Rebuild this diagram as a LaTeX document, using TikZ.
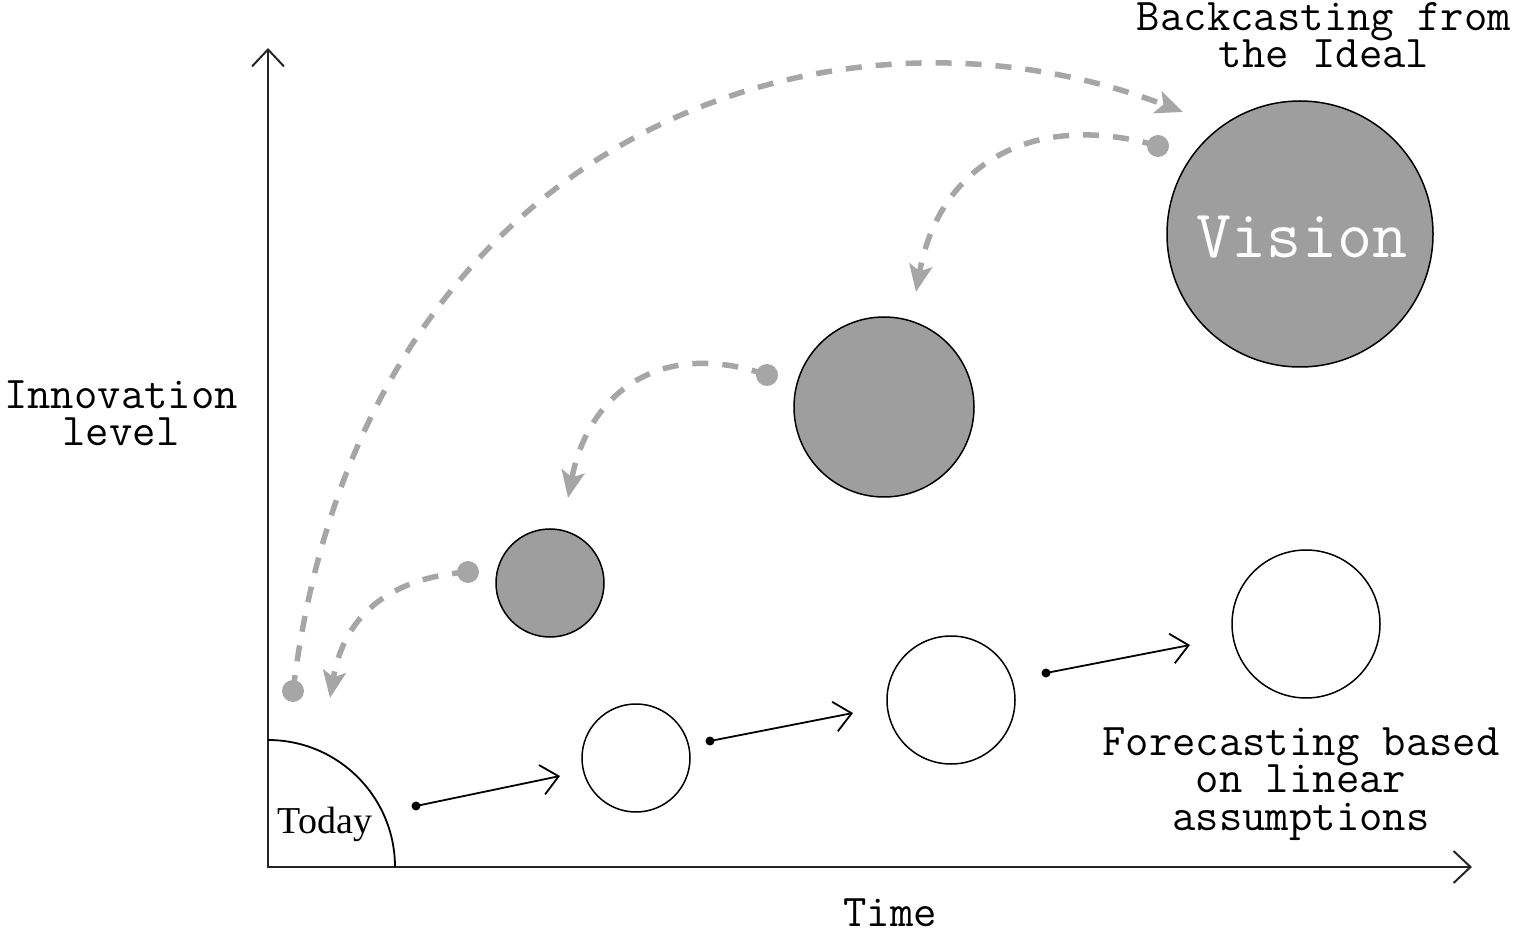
\documentclass[tikz,border=0pt]{standalone}
\usepackage{fontspec}
\setmonofont{Latin Modern Mono}
\newfontfamily\todayfont{Liberation Serif}
\usetikzlibrary{arrows.meta}
\definecolor{discgray}{RGB}{158,158,158}
\definecolor{backgray}{RGB}{166,166,166}

\begin{document}
\lineskiplimit=-30pt\relax
\begin{tikzpicture}[x=0.5pt,y=0.5pt,
  label text/.style={font=\ttfamily\fontsize{22.7pt}{18.75pt}\selectfont,
    align=center, anchor=base, inner sep=0pt},
  axis/.style={line width=1pt, draw=black!85,
    {Straight Barb[length=8.5pt,width=16pt]}-{Straight Barb[length=8.5pt,width=16pt]}},
  plain disc/.style={circle, draw, line width=0.75pt, fill=white, inner sep=0pt},
  goal disc/.style={circle, draw, line width=0.75pt, fill=discgray, inner sep=0pt},
  fore dot/.style={circle, fill=black, inner sep=0pt, minimum size=4.5pt},
  back dot/.style={circle, fill=backgray, inner sep=0pt, minimum size=11pt},
  fore arrow/.style={line width=0.9pt, -{Straight Barb[length=8.5pt,width=15pt]}},
  back arrow/.style={draw=backgray, line width=2.75pt, dash pattern=on 8pt off 7pt,
    -{Stealth[length=13.5pt,width=11.5pt,inset=3pt,fill=backgray]}},
]
\useasboundingbox (0,0) rectangle (1516,933);

% axes
\coordinate (origin) at (268,66);
\coordinate (ytop) at (268,885);
\coordinate (xend) at (1472,66);
\draw[axis] (ytop) -- (origin) -- (xend);

% today quadrant
\coordinate (todaytop) at (268,193);
\draw[line width=0.9pt] (todaytop) arc[start angle=90, end angle=0, radius=63.5pt];
\node[font=\todayfont\fontsize{19pt}{21pt}\selectfont, anchor=base, inner sep=0pt]
  (today) at (325,100) {Today};

% forecast discs
\node[plain disc, minimum size=54pt] (w1) at (636,175) {};
\node[plain disc, minimum size=64pt] (w2) at (951,233) {};
\node[plain disc, minimum size=74pt] (w3) at (1306,309) {};

% backcast discs
\node[goal disc, minimum size=54pt] (g1) at (550,350) {};
\node[goal disc, minimum size=90pt] (g2) at (884,526) {};
\node[goal disc, minimum size=133pt] (vision) at (1300,699) {};
\node[font=\ttfamily\fontsize{34pt}{34pt}\selectfont, text=white, anchor=base, inner sep=0pt]
  (visiontext) at (1302,675) {Vision};

% forecasting steps
\node[fore dot] (f1) at (416,127) {};
\coordinate (f1end) at (560,157);
\draw[fore arrow] (f1.center) -- (f1end);
\node[fore dot] (f2) at (710,192) {};
\coordinate (f2end) at (853,220);
\draw[fore arrow] (f2.center) -- (f2end);
\node[fore dot] (f3) at (1046,260) {};
\coordinate (f3end) at (1190,288);
\draw[fore arrow] (f3.center) -- (f3end);

% backcasting steps
\node[back dot] (b1) at (293,242) {};
\coordinate (b1end) at (1183,821);
\draw[back arrow] (b1.center) .. controls (361,798) and (828,957) .. (b1end);
\node[back dot] (b2) at (1158,787) {};
\coordinate (b2end) at (916,641);
\draw[back arrow] (b2.center) .. controls (1033,823) and (939,769) .. (b2end);
\node[back dot] (b3) at (767,558) {};
\coordinate (b3end) at (568,435);
\draw[back arrow] (b3.center) .. controls (663,594) and (589,543) .. (b3end);
\node[back dot] (b4) at (468,361) {};
\coordinate (b4end) at (330,235);
\draw[back arrow] (b4.center) .. controls (398,356) and (345,324) .. (b4end);

% labels (anchored at the baseline of their last line)
\node[label text] (backlabel) at (1324,865) {Backcasting from\\the Ideal};
\node[label text] (ylabel) at (121,487) {Innovation\\level};
\node[label text] (forelabel) at (1301,103) {Forecasting based\\on linear\\assumptions};
\node[label text] (xlabel) at (890,7) {Time};
\end{tikzpicture}
\end{document}
